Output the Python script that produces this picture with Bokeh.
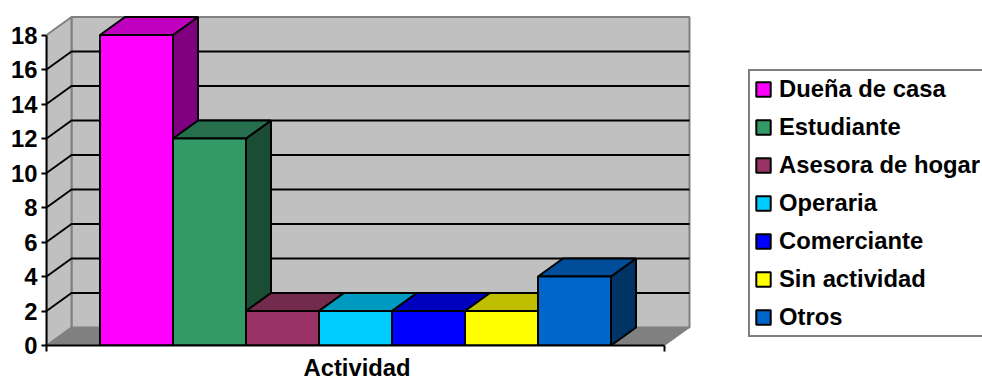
from bokeh.core.properties import value
from bokeh.embed import file_html
from bokeh.models import FixedTicker, Legend, LegendItem, Range1d, Title
from bokeh.plotting import figure
from bokeh.resources import INLINE

categories = ["Dueña de casa", "Estudiante", "Asesora de hogar", "Operaria",
              "Comerciante", "Sin actividad", "Otros"]
values = [18, 12, 2, 2, 2, 2, 4]
front_colors = ["#FF00FF", "#339966", "#993366", "#00CCFF", "#0000FF", "#FFFF00", "#0066CC"]
top_colors = ["#BF00BF", "#266F4C", "#732A4D", "#0099BF", "#0000BF", "#BFBF00", "#004D99"]
side_colors = ["#800080", "#1A4D33", "#4D1A33", "#006680", "#000080", "#808000", "#003366"]
y_ticks = list(range(0, 20, 2))
axis_title = "Actividad"

FONT = "Liberation Sans"
FONT_SIZE = "23.8px"

# Frame placement, in pixels
LEFT, BOTTOM, FRAME_H, WIDTH, HEIGHT = 46, 36, 345, 982, 381
PX_PER_BAR = 73.0
PX_PER_UNIT = 17.25

gap = 53.5 / PX_PER_BAR          # space between the axis and the first bar
depth_x = 25 / PX_PER_BAR        # horizontal offset of the oblique depth
depth_y = 18 / PX_PER_UNIT       # vertical offset of the oblique depth
x_end = 2 * gap + len(values)    # width of the single category
y_top = max(y_ticks)

p = figure(width=WIDTH, height=HEIGHT, output_backend="svg", toolbar_location=None,
           x_range=Range1d(0, (WIDTH - LEFT) / PX_PER_BAR),
           y_range=Range1d(0, FRAME_H / PX_PER_UNIT),
           min_border_left=LEFT, min_border_right=0, min_border_top=0, min_border_bottom=BOTTOM,
           outline_line_color=None, background_fill_color="white", border_fill_color="white")
p.grid.visible = False

# Walls and floor of the 3D box
p.patch([depth_x, x_end + depth_x, x_end + depth_x, depth_x],
        [depth_y, depth_y, y_top + depth_y, y_top + depth_y],
        fill_color="#C0C0C0", line_color="#808080", line_width=2)
p.patch([0, depth_x, depth_x, 0], [0, depth_y, y_top + depth_y, y_top],
        fill_color="#C0C0C0", line_color="#808080", line_width=2)
p.patch([0, depth_x, x_end + depth_x, x_end], [0, depth_y, depth_y, 0],
        fill_color="#808080", line_color="#808080", line_width=1)

# Gridlines wrap from the left wall onto the back wall
inner = [t for t in y_ticks if 0 < t < y_top]
p.multi_line([[0, depth_x, x_end + depth_x] for _ in inner],
             [[t, t + depth_y, t + depth_y] for t in inner],
             line_color="black", line_width=2)

# Bars, left to right so each one overlaps the side of the previous one
items = []
for i, (name, val) in enumerate(zip(categories, values)):
    x0, x1 = gap + i, gap + i + 1
    p.patch([x1, x1 + depth_x, x1 + depth_x, x1], [0, depth_y, val + depth_y, val],
            fill_color=side_colors[i], line_color="black", line_width=2)
    p.patch([x0, x0 + depth_x, x1 + depth_x, x1], [val, val + depth_y, val + depth_y, val],
            fill_color=top_colors[i], line_color="black", line_width=2)
    bar = p.vbar(x=[x0 + 0.5], width=1, bottom=0, top=[val],
                 fill_color=front_colors[i], line_color="black", line_width=2)
    items.append(LegendItem(label=value(name), renderers=[bar]))

# Value axis
ya = p.yaxis[0]
ya.ticker = FixedTicker(ticks=y_ticks)
ya.bounds = (0, y_top)
ya.axis_line_color = "black"
ya.axis_line_width = 2
ya.major_tick_line_color = "black"
ya.major_tick_line_width = 2
ya.major_tick_in = 0
ya.major_tick_out = 5
ya.minor_tick_line_color = None
ya.major_label_standoff = 4
ya.major_label_text_font = FONT
ya.major_label_text_font_style = "bold"
ya.major_label_text_font_size = FONT_SIZE
ya.major_label_text_color = "black"

# Category axis: marks only at the two edges of the single category
xa = p.xaxis[0]
xa.ticker = FixedTicker(ticks=[], minor_ticks=[0, x_end])
xa.bounds = (0, x_end)
xa.axis_line_color = "black"
xa.axis_line_width = 2
xa.major_tick_line_color = None
xa.major_tick_in = 0
xa.major_tick_out = 0
xa.minor_tick_line_color = "black"
xa.minor_tick_line_width = 2
xa.minor_tick_in = 0
xa.minor_tick_out = 6
xa.major_label_standoff = 0

# Category name under the axis
p.add_layout(Title(text=axis_title, align="left", offset=257, standoff=0, vertical_align="bottom",
                   text_font=FONT, text_font_style="bold", text_font_size=FONT_SIZE,
                   text_color="black"), "below")

legend = Legend(items=items, location=(702, 8), orientation="vertical",
                margin=0, padding=4, spacing=10, label_standoff=7,
                glyph_width=18, glyph_height=18, label_height=24,
                label_text_font=FONT, label_text_font_style="bold",
                label_text_font_size=FONT_SIZE, label_text_color="black",
                border_line_color="black", border_line_width=2,
                background_fill_color="white", background_fill_alpha=1)
p.add_layout(legend, "center")

open("out.html", "w").write(file_html(p, INLINE))
